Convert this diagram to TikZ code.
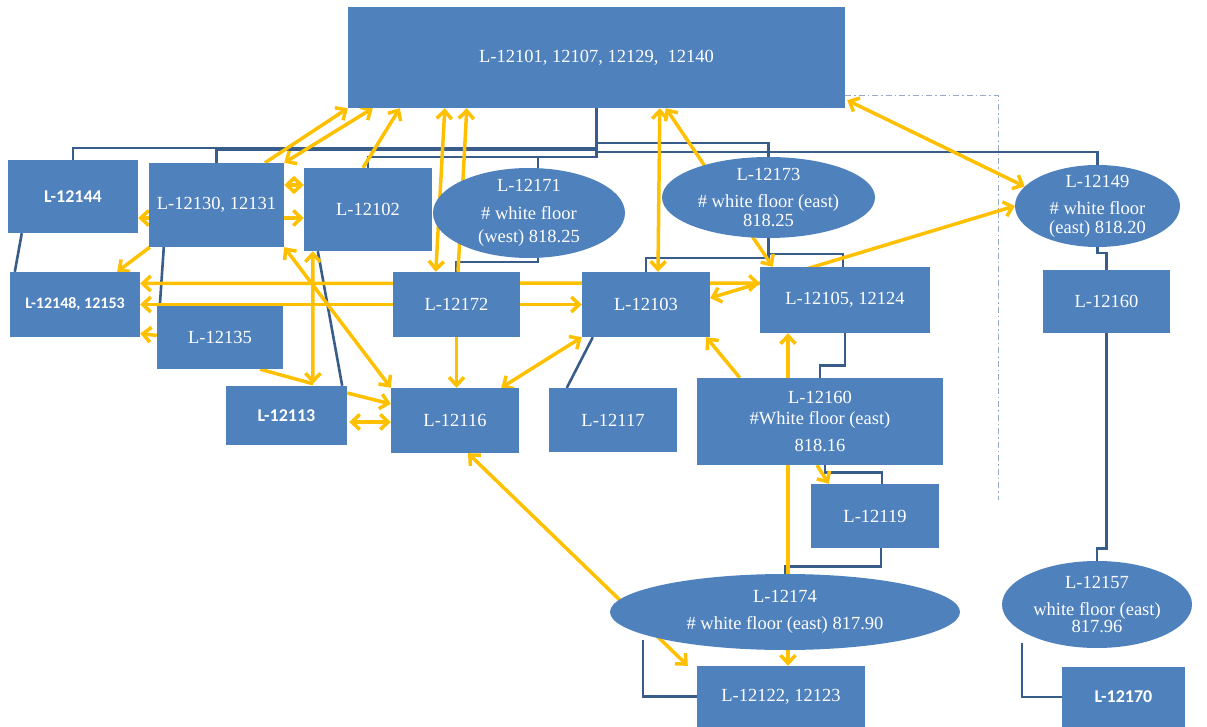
\documentclass[tikz,border=0pt]{standalone}
\usepackage{fontspec}
\setmainfont{Liberation Serif}
\newfontfamily\boldsans{Carlito}
\usetikzlibrary{arrows.meta,shapes.geometric,calc,backgrounds}
\definecolor{boxblue}{RGB}{79,129,189}
\definecolor{lineblue}{RGB}{56,93,138}
\definecolor{flowyellow}{RGB}{255,192,0}
\definecolor{dashgray}{RGB}{150,172,200}

\begin{document}
\begin{tikzpicture}[x=1pt, y=-1pt, >={Straight Barb[length=8pt,width=15pt]},
  box/.style={rectangle, fill=boxblue, text=white, inner sep=0pt, align=center,
    font=\fontsize{18.5}{21}\selectfont},
  oval/.style={ellipse, fill=boxblue, text=white, inner sep=-20pt, align=center,
    font=\fontsize{18.5}{21}\selectfont},
  sansbox/.style={box, font=\boldsans\bfseries\fontsize{18}{21}\selectfont},
  link/.style={draw=lineblue, line width=2.6pt},
  flow/.style={draw=flowyellow, line width=3.5pt}]
  \useasboundingbox (0,0) rectangle (1207,727);

  % Levels
  \node[box, minimum width=497pt, minimum height=101pt] (top) at (596.5,57.5) {L-12101, 12107, 12129, \ 12140};
  \node[sansbox, minimum width=130pt, minimum height=73pt] (L12144) at (73,196.5) {L-12144};
  \node[box, minimum width=135pt, minimum height=84pt] (L12130) at (216.5,205) {L-12130, 12131};
  \node[box, minimum width=128pt, minimum height=83pt] (L12102) at (368,209.5) {L-12102};
  \node[oval, minimum width=192pt, minimum height=90pt] (L12171) at (529,213) {L-12171\\[7pt]\# white floor\\[2pt](west) 818.25};
  \node[oval, minimum width=213pt, minimum height=81pt] (L12173) at (768.5,197.5) {L-12173\\[6pt]\# white floor (east)\\[-2pt]818.25};
  \node[oval, minimum width=165pt, minimum height=82pt] (L12149) at (1097.5,206) {L-12149\\[6pt]\# white floor\\[-2pt](east) 818.20};
  \node[sansbox, font=\boldsans\bfseries\fontsize{16}{19}\selectfont, minimum width=130pt, minimum height=65pt] (L12148) at (75,304.5) {L-12148, 12153};
  \node[box, minimum width=127pt, minimum height=65pt] (L12172) at (456.5,304.5) {L-12172};
  \node[box, minimum width=128pt, minimum height=65pt] (L12103) at (646,304.5) {L-12103};
  \node[box, minimum width=170pt, minimum height=66pt] (L12105) at (845,300) {L-12105, 12124};
  \node[box, minimum width=127pt, minimum height=63pt] (L12160r) at (1106.5,301.5) {L-12160};
  \node[box, minimum width=126pt, minimum height=63pt] (L12135) at (220,337.5) {L-12135};
  \node[sansbox, minimum width=121pt, minimum height=59pt] (L12113) at (286.5,415.5) {L-12113};
  \node[box, minimum width=128pt, minimum height=65pt] (L12116) at (455,420.5) {L-12116};
  \node[box, minimum width=128pt, minimum height=64pt] (L12117) at (613,420) {L-12117};
  \node[box, minimum width=246pt, minimum height=87pt] (L12160) at (820,421.5) {L-12160\\\#White floor (east)\\[6pt]818.16};
  \node[box, minimum width=128pt, minimum height=64pt] (L12119) at (875,516) {L-12119};
  \node[oval, minimum width=350pt, minimum height=76pt] (L12174) at (785,612) {L-12174\\[6pt]\# white floor (east) 817.90};
  \node[oval, minimum width=190pt, minimum height=87pt] (L12157) at (1097,604.5) {L-12157\\[6pt]white floor (east)\\[-4pt]817.96};
  \node[box, minimum width=168pt, minimum height=61pt] (L12122) at (781,696.5) {L-12122, 12123};
  \node[sansbox, minimum width=123pt, minimum height=60pt] (L12170) at (1123.5,697) {L-12170};
  \coordinate (L12174foot) at ($(L12174.center)+(-142,28)$);
  \coordinate (L12157foot) at ($(L12157.center)+(-75,38)$);

  \begin{pgfonlayer}{background}
  % Tree lines
  \foreach \n/\d in {L12144/40, L12130/42, L12102/49, L12173/35, L12149/44}
    \draw[link] (top.south) -- ++(0,\d) -| (\n.north);
  \draw[link] (top.south) -- ++(0,49) -| ($(L12171.north)+(9,1)$);
  \draw[link] ($(L12144.south west)+(14,0)$) -- ($(L12148.north west)+(5,0)$);
  \draw[link] ($(L12130.south west)+(15,0)$) -- ($(L12135.north west)+(3,0)$);
  \draw[link] ($(L12102.south west)+(14,0)$) -- ($(L12113.north east)+(-5,0)$);
  \draw[link] ($(L12171.south)+(9,-1)$) -- ++(0,5) -| (L12172.north);
  \draw[link] (L12173.south) -- ++(0,20) -| (L12103.north);
  \draw[link] (L12173.south) -- ++(0,16) -| ($(L12105.north)+(-2,0)$);
  \draw[link] ($(L12103.south west)+(11,0)$) -- ($(L12117.north west)+(18,0)$);
  \draw[link] (L12105.south) -- ++(0,32) -| (L12160.north);
  \draw[link] ($(L12160.south)+(5,0)$) -- ++(0,7) -| ($(L12119.north)+(7,0)$);
  \draw[link] ($(L12119.south)+(6,0)$) -- ++(0,18) -| (L12174.north);
  \draw[link] (L12149.south) -- ++(0,6) -| (L12160r.north);
  \draw[link] (L12160r.south) -- ++(0,215) -| (L12157.north);
  \draw[link] (L12174foot) |- (L12122.west);
  \draw[link] (L12157foot) |- (L12170.west);
  \draw[dashgray, line width=1.2pt, dash pattern=on 6pt off 3pt on 1.5pt off 3pt]
    ($(top.south east)+(0,-13)$) -| ++(153,405);

  % Flows to the top box
  \draw[flow, ->] ($(L12130.north)+(48.5,0)$) -- (top.south west);
  \draw[flow, <->] (L12130.north east) -- ($(top.south west)+(25,0)$);
  \draw[flow, ->] ($(L12102.north)+(-5,0)$) -- ($(top.south west)+(52,0)$);
  \draw[flow, <->] ($(top.south west)+(97,0)$) -- ($(L12172.north west)+(43,0)$);
  \draw[flow, ->] ($(L12172.north)+(1.5,0)$) -- ($(top.south west)+(119,0)$);
  \draw[flow, <->] ($(top.south west)+(312,0)$) -- ($(L12103.north)+(12,0)$);
  \draw[flow, <->] ($(top.south west)+(318,0)$) -- ($(L12105.north west)+(13,0)$);
  \draw[flow, <->] ($(top.south east)+(2,-8)$) -- (L12149.165);
  \draw[flow, <->] (L12149.west) -- ($(L12103.east)+(0,-6.5)$);

  % Flows between the levels
  \draw[flow, ->] ($(L12130.west)+(0,13)$) -- ($(L12144.east)+(0,21.5)$);
  \draw[flow, <->] ($(L12130.east)+(0,-20)$) -- ($(L12102.west)+(0,-24.5)$);
  \draw[flow, ->] ($(L12130.east)+(0,13)$) -- ($(L12102.west)+(0,8.5)$);
  \draw[flow, ->] ($(L12130.south west)+(1,0)$) -- ($(L12148.north east)+(-23,0)$);
  \draw[flow, <->] (L12130.south east) -- (L12116.north west);
  \draw[flow, <->] ($(L12102.south west)+(9,0)$) -- ($(L12113.north)+(26.5,-2)$);
  \draw[flow, <->] ($(L12148.east)+(0,-21)$) -- ($(L12105.west)+(0,-17)$);
  \draw[flow, <->] (L12148.east) -- (L12103.west);
  \draw[flow, ->] ($(L12135.west)+(0,-2)$) -- ($(L12148.east)+(0,29)$);
  \draw[flow] ($(L12135.south)+(40,0)$) -- ($(L12113.north)+(26.5,-2)$);
  \draw[flow, ->] ($(L12113.east)+(0,-22.5)$) -- ($(L12116.west)+(0,-16.5)$);
  \draw[flow, <->] ($(L12113.east)+(2,6.5)$) -- ($(L12116.west)+(0,1.5)$);
  \draw[flow, ->] (L12172.south) -- (L12172.south |- L12116.north);
  \draw[flow, <->] ($(L12116.north east)+(-18,0)$) -- (L12103.south west);
  \draw[flow, <->] ($(L12116.south)+(13,0)$) -- ($(L12122.north west)+(-9,0)$);
  \draw[flow, ->] ($(L12160.north west)+(43,0)$) -- ($(L12103.south east)+(-4,0)$);
  \draw[flow, <->] ($(L12105.south)+(-57,0)$) -- ($(L12122.north)+(7,0)$);
  \draw[flow, ->] ($(L12160.south)+(-3,0)$) -- ($(L12119.north west)+(18,0)$);
  \end{pgfonlayer}
\end{tikzpicture}
\end{document}
